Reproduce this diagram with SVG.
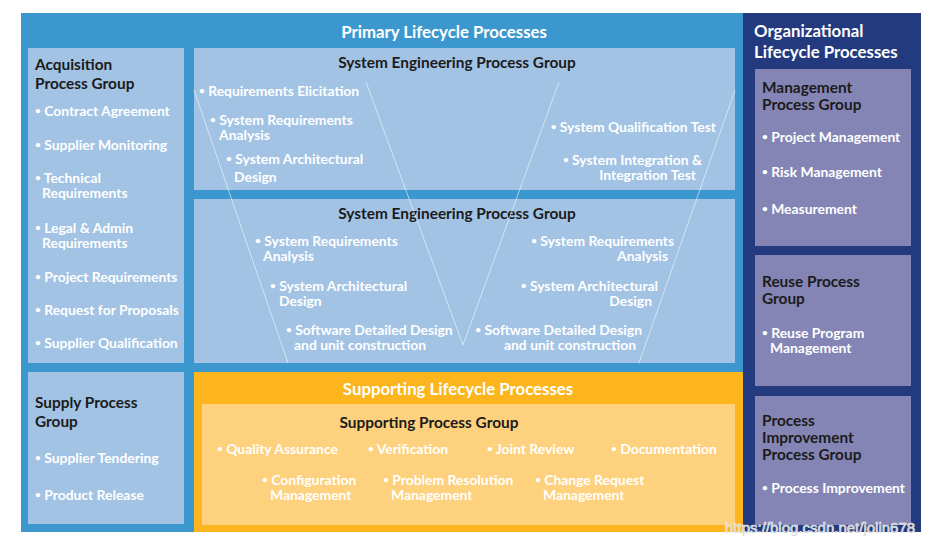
<svg xmlns="http://www.w3.org/2000/svg" width="937" height="546" viewBox="0 0 937 546">
<style>
text{font-family:Lato,"Open Sans","Liberation Sans",sans-serif;font-weight:700}
.h{fill:#1b1b1b;font-size:15.4px}
.t{fill:#ffffff;font-size:16.8px}
.b{fill:#ffffff;font-size:13.9px}
.d{font-size:10px;baseline-shift:2.5px}
.c{text-anchor:middle}
.e{text-anchor:end}
.lb{fill:#a2c3e4}
.pu{fill:#8585b5}
.vl{stroke:#ffffff;stroke-opacity:0.55;stroke-width:1;fill:none}
</style>
<rect x="0" y="0" width="937" height="546" fill="#ffffff"/>
<g id="primary">
<rect x="21" y="13" width="722" height="519" fill="#3d97cf"/>
<text class="t c" x="444" y="38">Primary Lifecycle Processes</text>
</g>
<g id="organizational">
<rect x="743" y="13" width="178" height="519" fill="#233a7e"/>
<text class="t" x="754" y="37">Organizational</text>
<text class="t" x="754" y="58">Lifecycle Processes</text>
</g>
<g id="acquisition">
<rect class="lb" x="28" y="48" width="156" height="315"/>
<text class="h" x="35" y="70">Acquisition</text>
<text class="h" x="35" y="89">Process Group</text>
<text class="b" x="35" y="116"><tspan class="d">•</tspan> Contract Agreement</text>
<text class="b" x="35" y="150"><tspan class="d">•</tspan> Supplier Monitoring</text>
<text class="b" x="35" y="183"><tspan class="d">•</tspan> Technical</text>
<text class="b" x="42" y="198">Requirements</text>
<text class="b" x="35" y="233"><tspan class="d">•</tspan> Legal &amp; Admin</text>
<text class="b" x="42" y="248">Requirements</text>
<text class="b" x="35" y="282"><tspan class="d">•</tspan> Project Requirements</text>
<text class="b" x="35" y="315"><tspan class="d">•</tspan> Request for Proposals</text>
<text class="b" x="35" y="348"><tspan class="d">•</tspan> Supplier Qualification</text>
</g>
<g id="se-top">
<rect class="lb" x="194" y="48" width="541" height="142"/>
<text class="h c" x="457" y="68">System Engineering Process Group</text>
<text class="b" x="199" y="96"><tspan class="d">•</tspan> Requirements Elicitation</text>
<text class="b" x="210" y="125"><tspan class="d">•</tspan> System Requirements</text>
<text class="b" x="219" y="140">Analysis</text>
<text class="b" x="226" y="164"><tspan class="d">•</tspan> System Architectural</text>
<text class="b" x="234" y="182">Design</text>
<text class="b e" x="716" y="132"><tspan class="d">•</tspan> System Qualification Test</text>
<text class="b e" x="702" y="165"><tspan class="d">•</tspan> System Integration &amp;</text>
<text class="b e" x="696" y="180">Integration Test</text>
</g>
<g id="se-bottom">
<rect class="lb" x="194" y="199" width="541" height="164"/>
<text class="h c" x="457" y="219">System Engineering Process Group</text>
<text class="b" x="255" y="246"><tspan class="d">•</tspan> System Requirements</text>
<text class="b" x="263" y="261">Analysis</text>
<text class="b" x="270" y="291"><tspan class="d">•</tspan> System Architectural</text>
<text class="b" x="279" y="306">Design</text>
<text class="b" x="286" y="335"><tspan class="d">•</tspan> Software Detailed Design</text>
<text class="b" x="294" y="350">and unit construction</text>
<text class="b e" x="674" y="246"><tspan class="d">•</tspan> System Requirements</text>
<text class="b e" x="668" y="261">Analysis</text>
<text class="b e" x="658" y="291"><tspan class="d">•</tspan> System Architectural</text>
<text class="b e" x="652" y="306">Design</text>
<text class="b e" x="642" y="335"><tspan class="d">•</tspan> Software Detailed Design</text>
<text class="b e" x="636" y="350">and unit construction</text>
</g>
<g id="connectors">
<line class="vl" x1="194" y1="90" x2="288" y2="363"/>
<line class="vl" x1="366" y1="82" x2="463" y2="345"/>
<line class="vl" x1="559" y1="82" x2="463" y2="345"/>
<line class="vl" x1="735" y1="90" x2="639" y2="363"/>
</g>
<g id="supply">
<rect class="lb" x="28" y="372" width="156" height="152"/>
<text class="h" x="35" y="408">Supply Process</text>
<text class="h" x="35" y="427">Group</text>
<text class="b" x="35" y="463"><tspan class="d">•</tspan> Supplier Tendering</text>
<text class="b" x="35" y="500"><tspan class="d">•</tspan> Product Release</text>
</g>
<g id="supporting">
<rect x="194" y="372" width="549" height="160" fill="#fcb51c"/>
<text class="t c" x="458" y="395">Supporting Lifecycle Processes</text>
<rect x="202" y="404" width="533" height="121" fill="#fdd17d"/>
<text class="h c" x="429" y="428">Supporting Process Group</text>
<text class="b" x="217" y="454"><tspan class="d">•</tspan> Quality Assurance</text>
<text class="b" x="368" y="454"><tspan class="d">•</tspan> Verification</text>
<text class="b" x="487" y="454"><tspan class="d">•</tspan> Joint Review</text>
<text class="b" x="611" y="454"><tspan class="d">•</tspan> Documentation</text>
<text class="b" x="262" y="485"><tspan class="d">•</tspan> Configuration</text>
<text class="b" x="270" y="500">Management</text>
<text class="b" x="383" y="485"><tspan class="d">•</tspan> Problem Resolution</text>
<text class="b" x="391" y="500">Management</text>
<text class="b" x="535" y="485"><tspan class="d">•</tspan> Change Request</text>
<text class="b" x="543" y="500">Management</text>
</g>
<g id="management">
<rect class="pu" x="755" y="69" width="156" height="177"/>
<text class="h" x="762" y="93">Management</text>
<text class="h" x="762" y="110">Process Group</text>
<text class="b" x="762" y="142"><tspan class="d">•</tspan> Project Management</text>
<text class="b" x="762" y="177"><tspan class="d">•</tspan> Risk Management</text>
<text class="b" x="762" y="214"><tspan class="d">•</tspan> Measurement</text>
</g>
<g id="reuse">
<rect class="pu" x="755" y="255" width="156" height="131"/>
<text class="h" x="762" y="287">Reuse Process</text>
<text class="h" x="762" y="304">Group</text>
<text class="b" x="762" y="338"><tspan class="d">•</tspan> Reuse Program</text>
<text class="b" x="770" y="353">Management</text>
</g>
<g id="process-improvement">
<rect class="pu" x="755" y="396" width="156" height="129"/>
<text class="h" x="762" y="426">Process</text>
<text class="h" x="762" y="443">Improvement</text>
<text class="h" x="762" y="460">Process Group</text>
<text class="b" x="762" y="493"><tspan class="d">•</tspan> Process Improvement</text>
</g>
<text x="725" y="533" style="font-family:'Liberation Sans',Arial,sans-serif;font-weight:400;font-size:15px;fill:#d8d8d8;stroke:#ffffff;stroke-width:0.6;paint-order:stroke">https://blog.csdn.net/jolin678</text>
</svg>
